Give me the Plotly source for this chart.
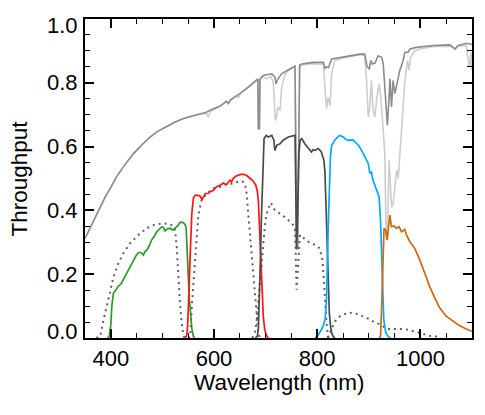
import plotly.graph_objects as go

# ---------------- data ----------------
atm_wl = [350, 360, 370, 379, 390, 400, 411, 425, 444, 460, 476, 490, 508, 525, 541, 560, 573, 585,
          599, 612, 624, 628, 632, 650, 665, 682, 685, 686, 688, 689, 692, 695, 705, 712, 718, 720,
          724, 731, 741, 750, 757, 758.5, 760, 762, 764, 766, 770, 792, 812, 815, 818, 822, 828, 851,
          883, 892, 897, 901, 904, 907, 912, 918, 925, 928, 931, 934, 936, 939, 941, 944, 947, 950.5,
          954, 960, 966.5, 970, 976, 980, 992, 1025, 1057, 1063, 1067, 1073, 1089, 1100]
atm_t = [0.312, 0.345, 0.38, 0.41, 0.445, 0.472, 0.505, 0.538, 0.578, 0.605, 0.63, 0.647, 0.663, 0.677,
         0.688, 0.697, 0.703, 0.708, 0.719, 0.727, 0.742, 0.735, 0.747, 0.766, 0.785, 0.81, 0.8125,
         0.656, 0.656, 0.81, 0.817, 0.823, 0.826, 0.828, 0.818, 0.797, 0.8125, 0.828, 0.838, 0.845,
         0.852, 0.6, 0.28, 0.28, 0.6, 0.856, 0.859, 0.864, 0.864, 0.844, 0.85, 0.848, 0.875, 0.882,
         0.89, 0.89, 0.849, 0.844, 0.87, 0.859, 0.862, 0.885, 0.88, 0.859, 0.797, 0.713, 0.667, 0.745,
         0.8125, 0.724, 0.807, 0.766, 0.797, 0.838, 0.87, 0.896, 0.896, 0.906, 0.911, 0.917, 0.919,
         0.912, 0.906, 0.917, 0.924, 0.92]

atm2_wl = [350, 360, 370, 379, 390, 400, 411, 425, 444, 460, 476, 490, 508, 525, 541, 560, 573, 586,
           589, 593, 612, 624, 628, 632, 644, 647, 652, 665, 682, 685, 686, 688, 689, 692, 695, 702,
           710, 715, 719, 722, 724, 728, 731, 738, 745, 757, 758.5, 760, 762, 764, 766, 770, 790, 805,
           812, 815, 818, 821, 825, 828, 834, 850, 883, 892, 895.6, 899, 902, 905, 908.4, 911.7, 915,
           920, 923.4, 926.6, 929, 931, 933, 934, 936, 938, 939.5, 942, 944, 947, 950.5, 954, 957, 960,
           963.4, 966.5, 970, 975, 978, 981, 989, 999, 1025, 1060, 1067, 1073, 1089, 1092, 1095, 1098,
           1100]
atm2_t = [0.312, 0.345, 0.38, 0.41, 0.445, 0.472, 0.505, 0.538, 0.578, 0.605, 0.63, 0.647, 0.663, 0.677,
          0.688, 0.697, 0.703, 0.703, 0.693, 0.71, 0.727, 0.742, 0.737, 0.745, 0.76, 0.752, 0.768, 0.783,
          0.808, 0.81, 0.656, 0.656, 0.81, 0.815, 0.82, 0.8125, 0.82, 0.80, 0.682, 0.70, 0.724, 0.713,
          0.786, 0.828, 0.84, 0.852, 0.6, 0.28, 0.28, 0.6, 0.852, 0.855, 0.86, 0.858, 0.86, 0.786, 0.719,
          0.755, 0.729, 0.828, 0.87, 0.878, 0.888, 0.886, 0.807, 0.693, 0.724, 0.807, 0.713, 0.693, 0.745,
          0.797, 0.755, 0.682, 0.62, 0.578, 0.37, 0.31, 0.33, 0.45, 0.557, 0.474, 0.41, 0.42, 0.474,
          0.526, 0.5, 0.578, 0.65, 0.724, 0.807, 0.87, 0.84, 0.88, 0.9, 0.906, 0.914, 0.915, 0.905,
          0.914, 0.917, 0.88, 0.849, 0.896, 0.84]

g_wl = [394, 397, 400, 402, 405, 410, 415, 420, 424, 429, 434, 439, 444, 449, 453.5, 458, 463, 466,
        470, 475, 479, 484, 489, 494, 499, 502, 505, 510, 515, 520, 525, 530, 534, 538, 541, 544, 546,
        548, 550, 552, 555, 557, 560, 563]
g_t = [0.0, 0.005, 0.04, 0.10, 0.14, 0.152, 0.163, 0.17, 0.182, 0.197, 0.213, 0.228, 0.245, 0.258,
       0.268, 0.268, 0.26, 0.27, 0.276, 0.29, 0.307, 0.318, 0.333, 0.34, 0.349, 0.347, 0.336, 0.342,
       0.344, 0.338, 0.346, 0.352, 0.362, 0.363, 0.361, 0.355, 0.345, 0.29, 0.2, 0.13, 0.06, 0.03,
       0.005, 0.0]

r_wl = [543, 547, 549, 550.5, 552, 553.5, 555, 557, 560, 563, 566.5, 570, 573, 577, 580, 583, 589,
        592, 599, 605, 612, 618, 622, 625, 631, 634, 637, 642, 647, 652, 657, 663, 670, 676, 681, 684,
        686, 688, 689, 691, 692.3, 694, 695.5, 698, 701, 705]
r_t = [0.0, 0.005, 0.04, 0.09, 0.17, 0.245, 0.32, 0.39, 0.4375, 0.447, 0.448, 0.446, 0.445, 0.434,
       0.445, 0.453, 0.453, 0.458, 0.463, 0.474, 0.479, 0.486, 0.482, 0.482, 0.495, 0.489, 0.5, 0.507,
       0.51, 0.513, 0.513, 0.51, 0.5, 0.492, 0.479, 0.46, 0.43, 0.35, 0.297, 0.22, 0.161, 0.11, 0.068,
       0.03, 0.01, 0.0]

i_wl = [680, 684, 686, 688, 690, 692, 694, 696, 697, 701, 705, 712, 716, 718, 721.5, 728, 734, 744,
        754, 757, 758.5, 760, 762, 764.5, 767, 770, 776, 783, 789, 792, 796, 802, 808, 813, 815, 817,
        819, 820.3, 822, 823.5, 826, 828, 831, 834]
i_t = [0.0, 0.005, 0.03, 0.12, 0.25, 0.38, 0.5, 0.6, 0.625, 0.635, 0.63, 0.635, 0.62, 0.588, 0.604,
       0.609, 0.62, 0.63, 0.635, 0.635, 0.47, 0.28, 0.39, 0.578, 0.62, 0.625, 0.609, 0.594, 0.583, 0.59,
       0.588, 0.594, 0.583, 0.557, 0.52, 0.42, 0.30, 0.213, 0.13, 0.078, 0.035, 0.016, 0.005, 0.0]

z_wl = [796, 802, 808, 812, 815.5, 818, 821, 823, 825.6, 828, 834, 841, 844, 850.6, 856, 860, 870, 875,
        880, 886, 892, 899, 902, 905, 908, 912, 916, 920, 922.7, 924.6, 926.6, 929, 933, 937.6, 942]
z_t = [0.0, 0.01, 0.025, 0.04, 0.06, 0.12, 0.328, 0.45, 0.567, 0.604, 0.62, 0.632, 0.635, 0.63, 0.622,
       0.62, 0.62, 0.612, 0.604, 0.588, 0.567, 0.547, 0.516, 0.52, 0.495, 0.479, 0.463, 0.4425, 0.37,
       0.266, 0.161, 0.057, 0.016, 0.005, 0.0]

y_wl = [920, 922.7, 925, 928, 929.5, 932.7, 935.6, 939, 940.8, 944, 948.5, 953.7, 958.8, 963.4, 969.8,
        973, 979.5, 989, 998.8, 1008.5, 1018, 1028, 1037.6, 1050.5, 1063.4, 1076, 1089, 1100]
y_t = [0.0, 0.005, 0.099, 0.255, 0.344, 0.338, 0.307, 0.359, 0.385, 0.349, 0.351, 0.344, 0.349, 0.333,
       0.34, 0.323, 0.302, 0.281, 0.245, 0.203, 0.161, 0.125, 0.094, 0.0675, 0.052, 0.038, 0.028, 0.021]

dg_wl = [372, 379.5, 386, 392, 398.6, 405, 414.7, 424.4, 437.4, 453.5, 469.7, 486, 502, 514.8, 522,
         524.5, 527.8, 531, 534, 537.5, 540.6, 543]
dg_t = [0.0, 0.005, 0.057, 0.099, 0.151, 0.19, 0.234, 0.266, 0.297, 0.323, 0.344, 0.356, 0.359, 0.357,
        0.35, 0.338, 0.286, 0.19, 0.109, 0.047, 0.01, 0.0]

dr_wl = [550, 554, 557, 560, 563, 566.5, 569.6, 576, 586, 598.7, 611.6, 624.6, 637.4, 650, 656, 660,
         663.3, 666.4, 669.7, 672.9, 676, 679.4, 682.7, 685.8, 689]
dr_t = [0.0, 0.005, 0.1, 0.17, 0.25, 0.32, 0.385, 0.432, 0.453, 0.469, 0.474, 0.482, 0.484, 0.492, 0.49,
        0.484, 0.453, 0.39, 0.328, 0.255, 0.19, 0.13, 0.068, 0.016, 0.0]

di_wl = [674, 679.4, 683, 686, 690, 694.4, 698, 700.8, 705, 710, 714, 718, 727.8, 740.7, 753.6, 756.8,
         758.5, 760, 762, 764.5, 766.5, 782.6, 795.6, 805, 810, 813, 815.5, 818, 821, 823]
di_t = [0.0, 0.016, 0.06, 0.12, 0.2, 0.286, 0.34, 0.38, 0.405, 0.424, 0.41, 0.401, 0.39, 0.375, 0.354,
        0.349, 0.25, 0.151, 0.2, 0.3, 0.323, 0.302, 0.292, 0.281, 0.245, 0.182, 0.109, 0.047, 0.005, 0.0]

dz_wl = [820, 824.7, 831, 834.4, 844, 860, 876, 892.4, 908.4, 921, 925, 934, 937.6, 953.7, 966.5, 979.5,
         986, 998.8, 1018, 1030, 1040]
dz_t = [0.0, 0.016, 0.04, 0.052, 0.068, 0.08, 0.076, 0.066, 0.052, 0.042, 0.04, 0.029, 0.028, 0.028,
        0.028, 0.025, 0.021, 0.016, 0.007, 0.005, 0.0]

x_ticks = [400, 600, 800, 1000]
y_ticks = [0.0, 0.2, 0.4, 0.6, 0.8, 1.0]
y_ticktext = ["0.0", "0.2", "0.4", "0.6", "0.8", "1.0"]
x_title = "Wavelength (nm)"
y_title = "Throughput"

# ---------------- figure ----------------
FONT = "Liberation Sans, Arial, Helvetica, sans-serif"
fig = go.Figure()

def add(x, y, color, width=1.6, dash=None):
    fig.add_trace(go.Scatter(x=x, y=y, mode="lines",
                             line=dict(color=color, width=width, dash=dash),
                             showlegend=False, hoverinfo="skip"))

add(atm2_wl, atm2_t, "rgb(205,205,205)", 1.6)
add(atm_wl, atm_t, "rgb(140,140,140)", 1.6)
for xw, yt in [(dg_wl, dg_t), (dr_wl, dr_t), (di_wl, di_t), (dz_wl, dz_t)]:
    add(xw, yt, "rgb(95,95,95)", 2, "2px,4px")
add(g_wl, g_t, "rgb(40,155,40)", 1.7)
add(r_wl, r_t, "rgb(255,20,20)", 1.7)
add(i_wl, i_t, "rgb(75,75,75)", 1.7)
add(z_wl, z_t, "rgb(0,170,255)", 1.7)
add(y_wl, y_t, "rgb(205,105,10)", 1.7)

for v, t in zip(y_ticks, y_ticktext):
    shift = 0
    if v == y_ticks[0]:
        shift = 7
    elif v == y_ticks[-1]:
        shift = -6
    fig.add_annotation(x=0, xref="paper", y=v, yref="y", text=t, showarrow=False,
                       xanchor="right", yanchor="middle", xshift=-5, yshift=shift,
                       font=dict(family=FONT, size=22, color="black"))

fig.add_annotation(x=0.5, xref="paper", y=-0.14, yref="paper", text=x_title, showarrow=False,
                   xanchor="center", yanchor="middle",
                   font=dict(family=FONT, size=22.5, color="black"))
fig.add_annotation(x=-0.168, xref="paper", y=0.5, yref="paper", text=y_title, showarrow=False,
                   textangle=-90, xanchor="center", yanchor="middle",
                   font=dict(family=FONT, size=22.5, color="black"))

axis_common = dict(showline=True, linecolor="black", linewidth=1.5, mirror="allticks",
                   ticks="inside", ticklen=9, tickwidth=1.5, tickcolor="black",
                   showgrid=False, zeroline=False, automargin=False)

fig.update_xaxes(range=[350, 1100], tickvals=x_ticks,
                 tickfont=dict(family=FONT, size=22, color="black"),
                 minor=dict(dtick=50, tick0=350, ticks="inside", ticklen=5, tickwidth=1.2,
                            tickcolor="black"),
                 **axis_common)
fig.update_yaxes(range=[0, 1.0], tickvals=y_ticks, showticklabels=False,
                 minor=dict(dtick=0.05, tick0=0, ticks="inside", ticklen=5, tickwidth=1.2,
                            tickcolor="black"),
                 **axis_common)

# the page body adds an 8px margin, so the figure is 16px smaller than the window
fig.update_layout(width=469, height=399, margin=dict(l=77, r=5, t=11, b=69),
                  paper_bgcolor="white", plot_bgcolor="white", template="none",
                  font=dict(family=FONT, color="black"))

fig.write_html("out.html")
